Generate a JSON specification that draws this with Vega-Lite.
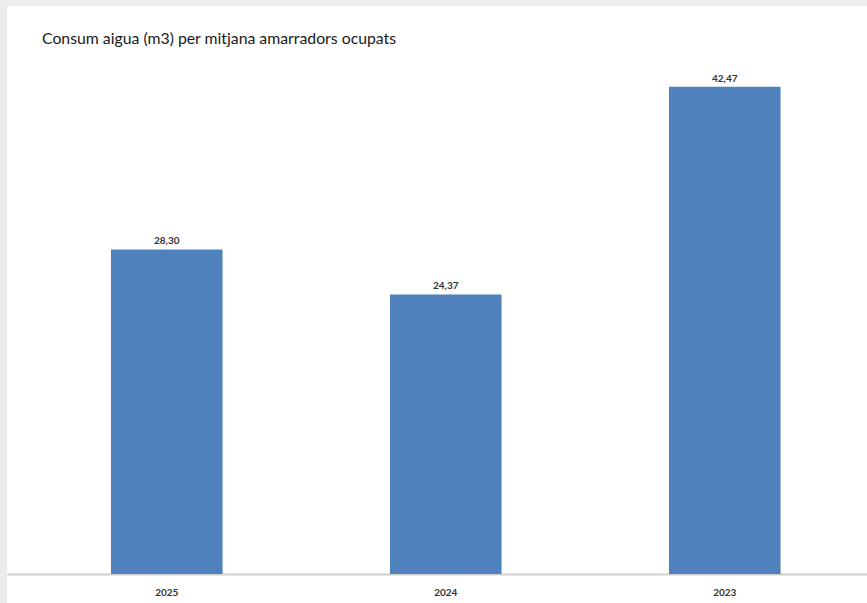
{
  "$schema": "https://vega.github.io/schema/vega-lite/v6.json",
  "autosize": "none",
  "width": 860,
  "height": 597,
  "padding": {"left": 7, "top": 6, "right": 0, "bottom": 0},
  "background": "#ececec",
  "title": {
    "text": "Consum aigua (m3) per mitjana amarradors ocupats",
    "anchor": "start",
    "frame": "group",
    "orient": "top",
    "baseline": "middle",
    "offset": 0,
    "dx": 35,
    "dy": 49,
    "font": "Lato",
    "fontSize": 15.8,
    "fontWeight": "normal",
    "color": "#1a1a1a"
  },
  "config": {
    "view": {"fill": "white", "stroke": null},
    "locale": {"number": {"decimal": ",", "thousands": ".", "grouping": [3], "currency": ["", " €"]}}
  },
  "data": {
    "values": [
      {"year": "2025", "value": 28.30},
      {"year": "2024", "value": 24.37},
      {"year": "2023", "value": 42.47}
    ]
  },
  "encoding": {
    "x": {
      "field": "year",
      "type": "nominal",
      "sort": null,
      "scale": {"paddingInner": 0.6, "paddingOuter": 0.3412, "align": 0.546},
      "axis": {
        "title": null,
        "offset": -29,
        "domainColor": "#cfcfcf",
        "domainWidth": 2,
        "ticks": false,
        "labelAngle": 0,
        "labelPadding": 13,
        "labelFont": "Lato",
        "labelFontSize": 10,
        "labelFontWeight": "bold",
        "labelColor": "#333333",
        "grid": false
      }
    },
    "y": {
      "field": "value",
      "type": "quantitative",
      "scale": {"domain": [-2.53, 49.52], "zero": false, "nice": false},
      "axis": null
    }
  },
  "layer": [
    {"mark": {"type": "bar", "color": "#4f81bd"}, "encoding": {"y2": {"datum": 0}}},
    {
      "mark": {"type": "text", "baseline": "middle", "dy": -8, "font": "Lato", "fontSize": 10, "fontWeight": "bold", "color": "#333333"},
      "encoding": {"text": {"field": "value", "type": "quantitative", "format": ".2f"}}
    }
  ]
}
